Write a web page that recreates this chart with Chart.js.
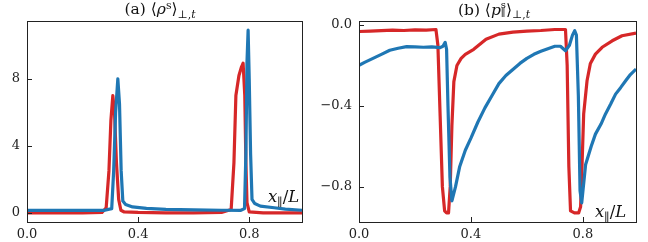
<!DOCTYPE html>
<html><head><meta charset="utf-8">
<script src="https://cdn.jsdelivr.net/npm/chart.js@4/dist/chart.umd.min.js"></script>
<style>
html,body{margin:0;padding:0;background:#fff;}
#wrap{position:relative;width:648px;height:242px;overflow:hidden;}
.cv{position:absolute;top:0;}
.lbl{position:absolute;white-space:nowrap;font-family:"DejaVu Serif",serif;font-size:15.5px;line-height:1;color:#111;}
.ttl{transform:translateX(-50%);}
.xl{font-size:16.5px;}
.lbl i{font-style:italic;}
.sup{font-size:0.7em;position:relative;top:-0.5em;}
.sub{font-size:0.7em;position:relative;top:0.35em;}
.stack{display:inline-block;vertical-align:middle;font-size:0.65em;line-height:0.85;text-align:left;position:relative;top:-0.15em;}
</style></head><body>
<div id="wrap">
<div class="cv" style="left:0;width:324px;height:242px"><canvas id="c1" width="324" height="242"></canvas></div>
<div class="cv" style="left:300px;width:348px;height:242px"><canvas id="c2" width="348" height="242"></canvas></div>
<div class="lbl ttl" style="left:160px;top:2px">(a) ⟨<i>ρ</i><span class="sup">s</span>⟩<span class="sub">⊥,<i>t</i></span></div>
<div class="lbl ttl" style="left:494px;top:2px">(b) ⟨<i>p</i><span class="stack">s<br>∥</span>⟩<span class="sub">⊥,<i>t</i></span></div>
<div class="lbl xl" style="left:268px;top:189px"><i>x</i><span class="sub">∥</span>/<i>L</i></div>
<div class="lbl xl" style="left:595px;top:204px"><i>x</i><span class="sub">∥</span>/<i>L</i></div>
</div>
<script>
// ---- data (x = x_parallel / L) ----
const xTicks = [0.0, 0.4, 0.8];
const rhoTicks = [0, 4, 8];
const pTicks = [0.0, -0.4, -0.8];

const rhoRedX = [0, 0.1, 0.2, 0.27, 0.285, 0.295, 0.302, 0.309, 0.315, 0.322, 0.33, 0.338, 0.35, 0.4, 0.5, 0.6, 0.7, 0.735, 0.745, 0.752, 0.763, 0.772, 0.778, 0.784, 0.788, 0.792, 0.8, 0.85, 0.9, 0.99];
const rhoRed  = [0.0, 0.0, 0.0, 0.02, 0.3, 2.5, 5.5, 7.0, 6.0, 3.0, 0.8, 0.15, 0.05, 0.02, 0.0, 0.0, 0.02, 0.2, 3.0, 7.0, 8.2, 8.7, 8.93, 7.0, 3.0, 0.6, 0.05, 0.0, 0.0, 0.0];

const rhoBlueX = [0, 0.1, 0.2, 0.28, 0.305, 0.312, 0.319, 0.327, 0.333, 0.339, 0.345, 0.355, 0.38, 0.43, 0.5, 0.6, 0.7, 0.77, 0.783, 0.788, 0.792, 0.796, 0.8, 0.805, 0.81, 0.82, 0.84, 0.89, 0.93, 0.99];
const rhoBlue  = [0.15, 0.15, 0.15, 0.15, 0.25, 2.5, 6.0, 8.0, 6.5, 2.5, 0.7, 0.5, 0.35, 0.26, 0.2, 0.17, 0.15, 0.15, 0.25, 3.5, 9.0, 10.9, 8.0, 3.5, 0.8, 0.55, 0.4, 0.3, 0.22, 0.15];

const pRedX = [0, 0.04, 0.08, 0.12, 0.16, 0.2, 0.24, 0.275, 0.282, 0.29, 0.298, 0.306, 0.313, 0.32, 0.326, 0.332, 0.339, 0.35, 0.365, 0.38, 0.41, 0.454, 0.5, 0.55, 0.6, 0.65, 0.7, 0.738, 0.744, 0.75, 0.756, 0.77, 0.785, 0.792, 0.797, 0.803, 0.815, 0.827, 0.845, 0.869, 0.905, 0.94, 0.99];
const pRed  = [-0.032, -0.03, -0.028, -0.025, -0.027, -0.024, -0.025, -0.022, -0.1, -0.45, -0.8, -0.92, -0.93, -0.93, -0.8, -0.5, -0.28, -0.2, -0.165, -0.145, -0.12, -0.07, -0.045, -0.035, -0.03, -0.027, -0.022, -0.022, -0.2, -0.7, -0.92, -0.93, -0.93, -0.9, -0.7, -0.44, -0.276, -0.19, -0.144, -0.11, -0.078, -0.053, -0.04];

const pBlueX = [0, 0.02, 0.05, 0.08, 0.11, 0.14, 0.17, 0.2, 0.23, 0.26, 0.29, 0.3, 0.308, 0.313, 0.318, 0.325, 0.332, 0.345, 0.36, 0.38, 0.4, 0.425, 0.45, 0.475, 0.5, 0.525, 0.55, 0.575, 0.6, 0.625, 0.65, 0.675, 0.7, 0.72, 0.738, 0.752, 0.763, 0.771, 0.777, 0.784, 0.79, 0.796, 0.81, 0.83, 0.845, 0.865, 0.881, 0.9, 0.917, 0.935, 0.953, 0.97, 0.99];
const pBlue  = [-0.2, -0.185, -0.165, -0.145, -0.125, -0.115, -0.107, -0.108, -0.11, -0.108, -0.112, -0.105, -0.086, -0.12, -0.4, -0.75, -0.87, -0.8, -0.7, -0.62, -0.56, -0.48, -0.41, -0.35, -0.29, -0.25, -0.22, -0.19, -0.165, -0.145, -0.13, -0.117, -0.105, -0.105, -0.127, -0.1, -0.05, -0.028, -0.05, -0.35, -0.82, -0.88, -0.69, -0.6, -0.54, -0.49, -0.44, -0.39, -0.342, -0.31, -0.276, -0.245, -0.218];

const RED = '#d62728', BLUE = '#1f77b4';
const FONT = {family: '"DejaVu Serif", serif', size: 13};
const zip = (xs, ys) => xs.map((x, i) => ({x, y: ys[i]}));

const frame = {
  id: 'frame',
  afterDraw(chart) {
    const {ctx, chartArea: a, scales: {x, y}} = chart;
    ctx.save();
    ctx.strokeStyle = '#222';
    ctx.lineWidth = 1;
    ctx.beginPath();
    x.ticks.forEach(t => { const p = Math.round(x.getPixelForValue(t.value)) + 0.5; ctx.moveTo(p, a.bottom); ctx.lineTo(p, a.bottom - 5); });
    y.ticks.forEach(t => { const p = Math.round(y.getPixelForValue(t.value)) + 0.5; ctx.moveTo(a.left, p); ctx.lineTo(a.left + 5, p); });
    ctx.stroke();
    ctx.strokeRect(Math.round(a.left) + 0.5, Math.round(a.top) + 0.5, Math.round(a.right - a.left), Math.round(a.bottom - a.top));
    ctx.restore();
  }
};

function make(id, redX, redY, blueX, blueY, yMin, yMax, yTicks, yFmt, yWidth, padRight) {
  return new Chart(document.getElementById(id), {
    type: 'line',
    data: {datasets: [
      {data: zip(blueX, blueY), borderColor: BLUE, borderWidth: 3.2, pointRadius: 0, tension: 0, borderJoinStyle: 'round', borderCapStyle: 'butt', order: 0},
      {data: zip(redX, redY), borderColor: RED, borderWidth: 3.2, pointRadius: 0, tension: 0, borderJoinStyle: 'round', borderCapStyle: 'butt', order: 1}
    ]},
    options: {
      responsive: false, animation: false, events: [],
      layout: {padding: {top: 21, right: padRight, bottom: 0, left: 0}},
      plugins: {legend: {display: false}, tooltip: {enabled: false}, title: {display: false}},
      scales: {
        x: {type: 'linear', min: 0, max: 0.99,
          afterBuildTicks: s => { s.ticks = xTicks.map(v => ({value: v})); },
          afterFit: s => { s.height = 20; s.paddingLeft = 0; s.paddingRight = 0; },
          ticks: {callback: v => v.toFixed(1), font: FONT, color: '#222', padding: 5, maxRotation: 0, autoSkip: false},
          grid: {display: false, drawTicks: false}, border: {display: false}},
        y: {type: 'linear', min: yMin, max: yMax,
          afterBuildTicks: s => { s.ticks = yTicks.map(v => ({value: v})); },
          afterFit: s => { s.width = yWidth; s.paddingTop = 0; s.paddingBottom = 0; },
          ticks: {callback: yFmt, font: FONT, color: '#222', padding: 7, autoSkip: false},
          grid: {display: false, drawTicks: false}, border: {display: false}}
      }
    },
    plugins: [frame]
  });
}

make('c1', rhoRedX, rhoRed, rhoBlueX, rhoBlue, -0.55, 11.45, rhoTicks, v => String(v), 27, 22);
make('c2', pRedX, pRed, pBlueX, pBlue, -0.975, 0.02, pTicks, v => (v < 0 ? '\u2212' : '') + Math.abs(v).toFixed(1), 59, 12);
</script>
</body></html>
